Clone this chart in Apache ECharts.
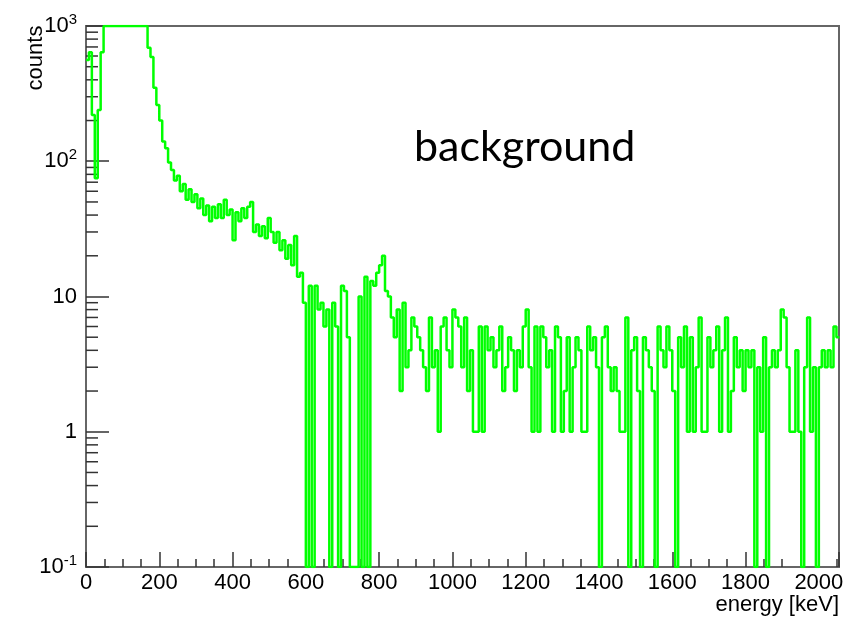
<!DOCTYPE html>
<html>
<head>
<meta charset="utf-8">
<script src="https://cdn.jsdelivr.net/npm/echarts@6/dist/echarts.min.js"></script>
<style>
html,body{margin:0;padding:0;background:#fff;}
#main{width:866px;height:620px;}
</style>
</head>
<body>
<div id="main"></div>
<script>
// ---- data (histogram, 8 keV bins starting at 0 keV) ----
const binWidth = 8;            // keV per bin
const counts = [
  // 0 - 48 keV
  560, 640, 220, 75, 239, 640,
  // 48 - 168 keV (off scale, drawn at the frame top)
  1000, 1000, 1000, 1000, 1000, 1000, 1000, 1000, 1000, 1000, 1000, 1000, 1000, 1000, 1000,
  // 168 - 232 keV
  690, 590, 350, 260, 200, 140, 125, 98,
  // 232 - 536 keV
  86, 72, 78, 60, 68, 52, 62, 50, 57, 45,
  53, 40, 47, 36, 46, 38, 48, 38, 52, 40,
  44, 26, 42, 36, 45, 38, 46, 50, 30, 34,
  28, 33, 27, 38, 30, 25, 30, 22,
  // 536 - 856 keV
  26, 19, 24, 17, 28, 14, 15, 9, 0, 12,
  0, 12, 8, 9, 6, 8, 0, 9, 6, 0,
  12, 11, 5, 0, 0, 0, 10, 0, 14, 0,
  13, 12, 15, 17, 20, 11, 10, 7, 5, 8,
  // 856 - 2056 keV
  2, 9, 3, 4, 7, 6, 5, 4, 3, 2, 7, 3, 4, 1, 6, 7,
  4, 3, 8, 7, 6, 3, 7, 2, 4, 1, 1, 6, 1, 6, 4, 5,
  3, 4, 6, 2, 3, 5, 4, 2, 4, 3, 6, 8, 3, 1, 6, 1,
  6, 5, 3, 4, 1, 6, 5, 1, 2, 5, 1, 3, 5, 4, 1, 1,
  6, 4, 5, 3, 0, 5, 6, 3, 2, 3, 2, 1, 1, 7, 0, 4,
  5, 2, 0, 5, 4, 3, 2, 0, 6, 4, 3, 6, 4, 2, 0, 5,
  3, 6, 1, 5, 1, 3, 7, 1, 1, 5, 3, 4, 6, 1, 4, 7,
  1, 2, 5, 3, 4, 2, 4, 3, 4, 0, 3, 1, 5, 0, 3, 4,
  3, 4, 8, 7, 3, 1, 1, 4, 1, 0, 3, 7, 1, 3, 0, 3,
  4, 3, 4, 3, 6, 5
];
const xMin = 0, xMax = 2055, xTickStep = 200;
const yMin = 0.1, yMax = 1000;
const yTickExponents = [-1, 0, 1, 2, 3];
const yTickLabels = ['10{sup|-1}', '1', '10', '10{sup|2}', '10{sup|3}'];
const yMinorTicks = [0.2,0.3,0.4,0.5,0.6,0.7,0.8,0.9, 2,3,4,5,6,7,8,9, 20,30,40,50,60,70,80,90, 200,300,400,500,600,700,800,900];
const titleText = 'background';
const xName = 'energy [keV]';
const yName = 'counts';

// ---- build step data: left bin edges, plus closing right edge ----
const stepData = counts.map((c, i) => [i * binWidth, Math.max(c, yMin)]);
stepData.push([counts.length * binWidth, Math.max(counts[counts.length - 1], yMin)]);

const chart = echarts.init(document.getElementById('main'), null, {renderer: 'canvas'});
const axisColor = '#666';
const font = "'Liberation Sans', Arial, sans-serif";

chart.setOption({
  animation: false,
  backgroundColor: '#fff',
  title: {
    text: titleText,
    left: 409, top: 121,
    textStyle: {fontFamily: "Lato, 'Open Sans', sans-serif", fontSize: 43, fontWeight: 'normal', color: '#000'}
  },
  graphic: [
    {type: 'text', x: 36, y: 58, rotation: Math.PI / 2, silent: true,
     style: {text: yName, font: "22px 'Liberation Sans', Arial, sans-serif", fill: '#000', align: 'center', verticalAlign: 'middle'}},
    {type: 'text', x: 839, y: 605, silent: true,
     style: {text: xName, font: "22px 'Liberation Sans', Arial, sans-serif", fill: '#000', align: 'right', verticalAlign: 'middle'}}
  ],
  grid: {
    left: 86, right: 27, top: 26, bottom: 53,
    show: true, borderColor: axisColor, borderWidth: 2, backgroundColor: 'transparent',
    containLabel: false, outerBoundsMode: 'none'
  },
  xAxis: {
    type: 'value', min: xMin, max: xMax, interval: xTickStep,
    axisLine: {show: true, onZero: false, lineStyle: {color: axisColor, width: 2}},
    axisTick: {show: true, inside: true, length: 15, lineStyle: {color: '#333', width: 1.5}},
    minorTick: {show: true, splitNumber: 4, length: 8, lineStyle: {color: '#333', width: 1.5}},
    axisLabel: {fontFamily: font, fontSize: 22, color: '#000', margin: 5, showMaxLabel: false,
                formatter: function (v) { return String(v); }},
    splitLine: {show: false}
  },
  yAxis: {
    type: 'log', logBase: 10, min: yMin, max: yMax,
    axisLine: {show: true, onZero: false, lineStyle: {color: axisColor, width: 2}},
    axisTick: {show: true, inside: true, length: 23, lineStyle: {color: '#333', width: 1.5}},
    axisLabel: {
      fontFamily: font, fontSize: 22, color: '#000', margin: 9,
      formatter: function (v) {
        const e = Math.round(Math.log10(v));
        const k = yTickExponents.indexOf(e);
        return k >= 0 ? yTickLabels[k] : '';
      },
      rich: {
        sup: {fontFamily: font, fontSize: 15, color: '#000', padding: [0, 0, 12, 0]}
      }
    },
    splitLine: {show: false}
  },
  series: [
    {
      type: 'line', data: stepData, step: 'end', showSymbol: false, symbol: 'none',
      lineStyle: {color: '#00ff00', width: 2.5}, itemStyle: {color: '#00ff00'},
      clip: true, silent: true
    },
    {
      type: 'custom', silent: true, clip: false,
      data: yMinorTicks.map(v => [xMin, v]),
      encode: {x: 0, y: 1},
      renderItem: function (params, api) {
        const p = api.coord([xMin, api.value(1)]);
        return {type: 'line', shape: {x1: p[0], y1: p[1], x2: p[0] + 12, y2: p[1]},
                style: {stroke: '#333', lineWidth: 1.5}};
      }
    }
  ]
});
</script>
</body>
</html>
